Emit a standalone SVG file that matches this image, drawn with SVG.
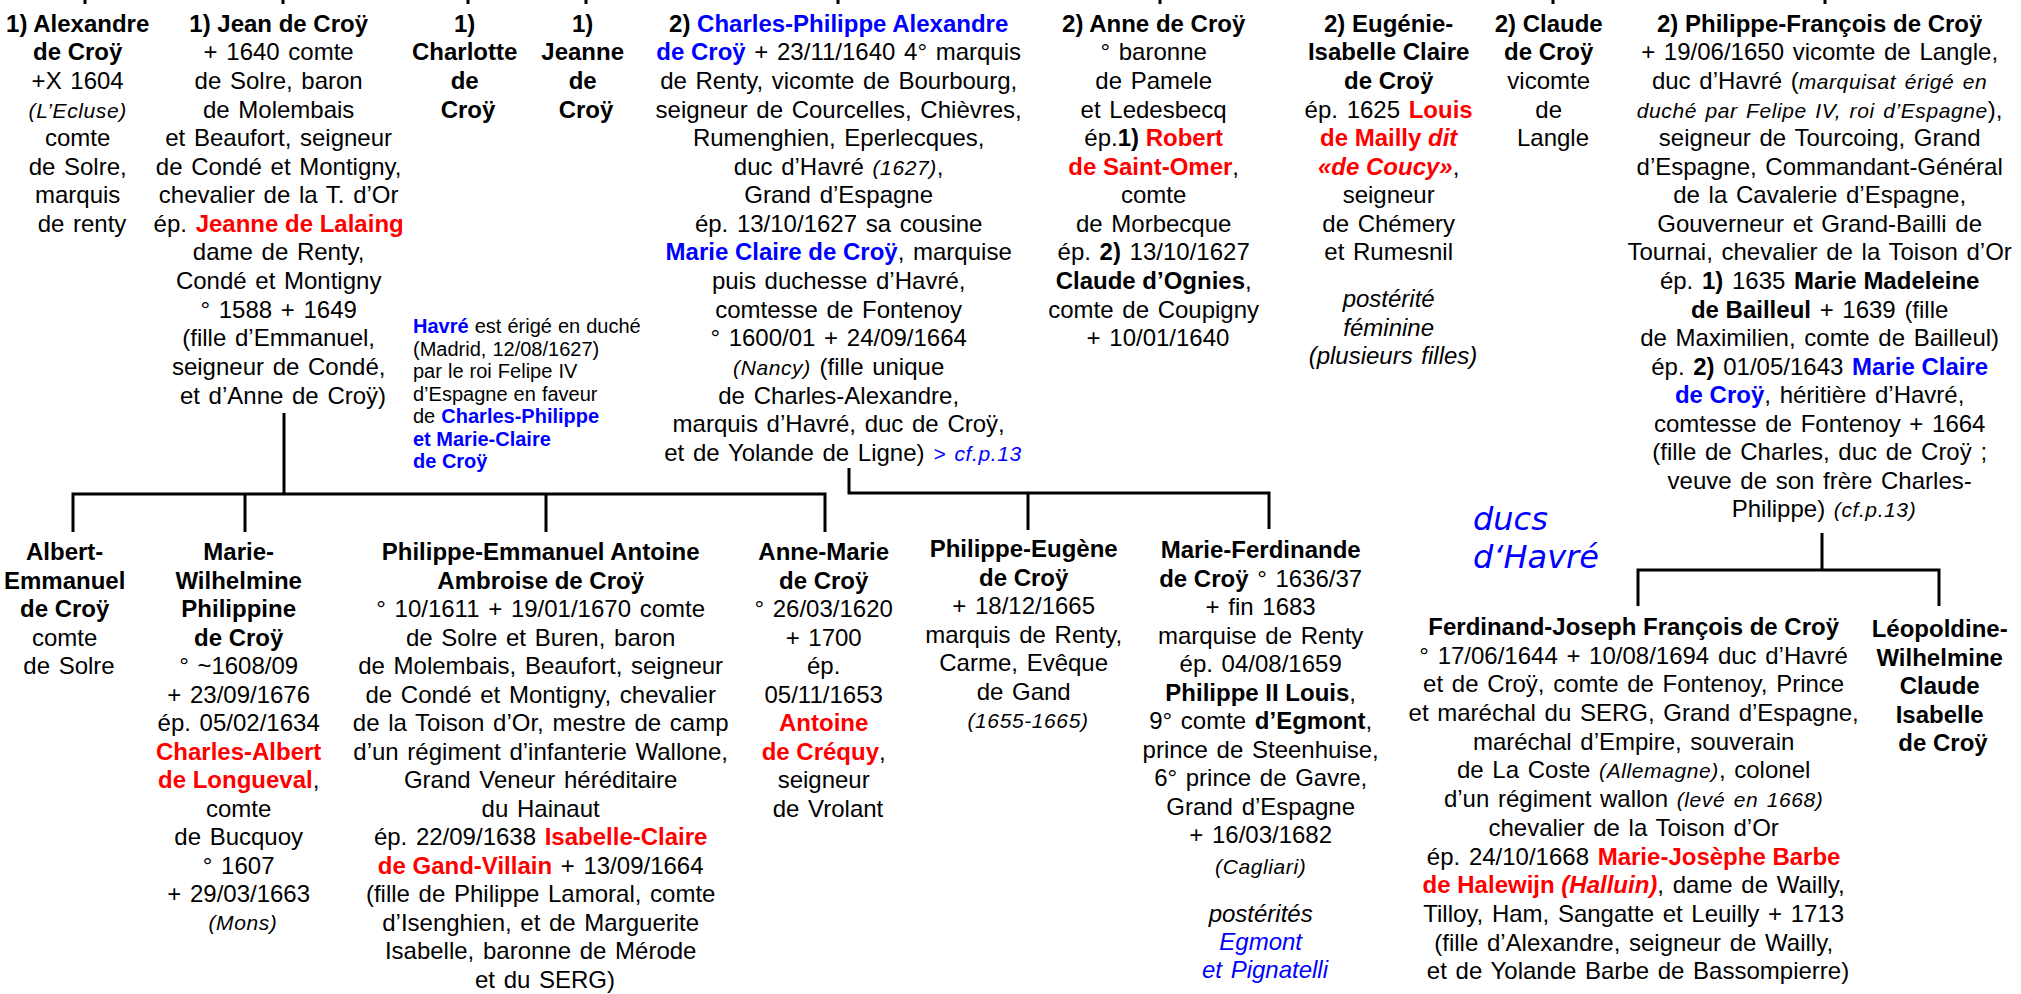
<svg xmlns="http://www.w3.org/2000/svg" width="2021" height="994" viewBox="0 0 2021 994">
<style>
text { font-family: "Liberation Sans", Arial, sans-serif; font-size: 24px; fill: #000; text-anchor: middle; word-spacing: 2px; }
.b { font-weight: bold; word-spacing: 0; }
.r { fill: #FF0000; }
.u { fill: #0000FF; }
.i { font-style: italic; }
.s { font-size: 21px; letter-spacing: 0.6px; }
.note { font-size: 20px; text-anchor: start; word-spacing: 0.5px; }
.ducs { font-family: "DejaVu Sans", Verdana, sans-serif; font-style: italic; font-size: 32px; fill: #0000FF; text-anchor: start; }
.ln { stroke: #000; stroke-width: 3; fill: none; }
</style>
<rect width="2021" height="994" fill="#fff"/>
<g id="connectors">
<path class="ln" d="M85 0V4M283 0V4M468 0V4M586 0V4M838 0V4M1160 0V4M1553 0V4M1825 0V4"/>
<path class="ln" d="M284 413V494M73 532V494H825V532M245 494V532M546 494V532"/>
<path class="ln" d="M849 468V493H1269V529M1028 493V530"/>
<path class="ln" d="M1822 533V570M1638 606V570H1939V606"/>
</g>
<g id="alexandre"><text>
<tspan x="82" y="32" class="b">1) Alexandre</tspan>
<tspan x="82" y="60" class="b">de Croÿ</tspan>
<tspan x="82" y="89">+X 1604</tspan>
<tspan x="82" y="118" class="i s">(L’Ecluse)</tspan>
<tspan x="82" y="146">comte</tspan>
<tspan x="82" y="175">de Solre,</tspan>
<tspan x="82" y="203">marquis</tspan>
<tspan x="82" y="232">de renty</tspan>
</text></g>
<g id="jean"><text>
<tspan x="283" y="32" class="b">1) Jean de Croÿ</tspan>
<tspan x="283" y="60">+ 1640 comte</tspan>
<tspan x="283" y="89">de Solre, baron</tspan>
<tspan x="283" y="118">de Molembais</tspan>
<tspan x="283" y="146">et Beaufort, seigneur</tspan>
<tspan x="283" y="175">de Condé et Montigny,</tspan>
<tspan x="283" y="203">chevalier de la T. d’Or</tspan>
<tspan x="283" y="232">ép. <tspan class="b r">Jeanne de Lalaing</tspan></tspan>
<tspan x="283" y="260">dame de Renty,</tspan>
<tspan x="283" y="289">Condé et Montigny</tspan>
<tspan x="283" y="318">° 1588 + 1649</tspan>
<tspan x="283" y="346">(fille d’Emmanuel,</tspan>
<tspan x="283" y="375">seigneur de Condé,</tspan>
<tspan x="283" y="404">et d’Anne de Croÿ)</tspan>
</text></g>
<g id="charlotte"><text class="b">
<tspan x="468" y="32">1)</tspan>
<tspan x="468" y="60">Charlotte</tspan>
<tspan x="468" y="89">de</tspan>
<tspan x="468" y="118">Croÿ</tspan>
</text></g>
<g id="jeanne"><text class="b">
<tspan x="586" y="32">1)</tspan>
<tspan x="586" y="60">Jeanne</tspan>
<tspan x="586" y="89">de</tspan>
<tspan x="586" y="118">Croÿ</tspan>
</text></g>
<g id="havre-note"><text class="note">
<tspan x="413" y="333"><tspan class="b u">Havré</tspan> est érigé en duché</tspan>
<tspan x="413" y="356">(Madrid, 12/08/1627)</tspan>
<tspan x="413" y="378">par le roi Felipe IV</tspan>
<tspan x="413" y="401">d’Espagne en faveur</tspan>
<tspan x="413" y="423">de <tspan class="b u">Charles-Philippe</tspan></tspan>
<tspan x="413" y="446" class="b u">et Marie-Claire</tspan>
<tspan x="413" y="468" class="b u">de Croÿ</tspan>
</text></g>
<g id="charles-philippe"><text>
<tspan x="843" y="32" class="b">2) <tspan class="u">Charles-Philippe Alexandre</tspan></tspan>
<tspan x="843" y="60"><tspan class="b u">de Croÿ</tspan> + 23/11/1640 4° marquis</tspan>
<tspan x="843" y="89">de Renty, vicomte de Bourbourg,</tspan>
<tspan x="843" y="118">seigneur de Courcelles, Chièvres,</tspan>
<tspan x="843" y="146">Rumenghien, Eperlecques,</tspan>
<tspan x="843" y="175">duc d’Havré <tspan class="i s">(1627)</tspan>,</tspan>
<tspan x="843" y="203">Grand d’Espagne</tspan>
<tspan x="843" y="232">ép. 13/10/1627 sa cousine</tspan>
<tspan x="843" y="260"><tspan class="b u">Marie Claire de Croÿ</tspan>, marquise</tspan>
<tspan x="843" y="289">puis duchesse d’Havré,</tspan>
<tspan x="843" y="318">comtesse de Fontenoy</tspan>
<tspan x="843" y="346">° 1600/01 + 24/09/1664</tspan>
<tspan x="843" y="375"><tspan class="i s">(Nancy)</tspan> (fille unique</tspan>
<tspan x="843" y="404">de Charles-Alexandre,</tspan>
<tspan x="843" y="432">marquis d’Havré, duc de Croÿ,</tspan>
<tspan x="843" y="461">et de Yolande de Ligne) <tspan class="i s u">&gt; cf.p.13</tspan></tspan>
</text></g>
<g id="anne"><text>
<tspan x="1158" y="32" class="b">2) Anne de Croÿ</tspan>
<tspan x="1158" y="60">° baronne</tspan>
<tspan x="1158" y="89">de Pamele</tspan>
<tspan x="1158" y="118">et Ledesbecq</tspan>
<tspan x="1158" y="146">ép.<tspan class="b">1) </tspan><tspan class="b r">Robert</tspan></tspan>
<tspan x="1158" y="175"><tspan class="b r">de Saint-Omer</tspan>,</tspan>
<tspan x="1158" y="203">comte</tspan>
<tspan x="1158" y="232">de Morbecque</tspan>
<tspan x="1158" y="260">ép. <tspan class="b">2)</tspan> 13/10/1627</tspan>
<tspan x="1158" y="289"><tspan class="b">Claude d’Ognies</tspan>,</tspan>
<tspan x="1158" y="318">comte de Coupigny</tspan>
<tspan x="1158" y="346">+ 10/01/1640</tspan>
</text></g>
<g id="eugenie"><text>
<tspan x="1393" y="32" class="b">2) Eugénie-</tspan>
<tspan x="1393" y="60" class="b">Isabelle Claire</tspan>
<tspan x="1393" y="89" class="b">de Croÿ</tspan>
<tspan x="1393" y="118">ép. 1625 <tspan class="b r">Louis</tspan></tspan>
<tspan x="1393" y="146" class="b r">de Mailly <tspan class="i">dit</tspan></tspan>
<tspan x="1393" y="175"><tspan class="b r i">«de Coucy»</tspan>,</tspan>
<tspan x="1393" y="203">seigneur</tspan>
<tspan x="1393" y="232">de Chémery</tspan>
<tspan x="1393" y="260">et Rumesnil</tspan>
<tspan x="1393" y="307" class="i">postérité</tspan>
<tspan x="1393" y="336" class="i">féminine</tspan>
<tspan x="1393" y="364" class="i">(plusieurs filles)</tspan>
</text></g>
<g id="claude"><text>
<tspan x="1553" y="32" class="b">2) Claude</tspan>
<tspan x="1553" y="60" class="b">de Croÿ</tspan>
<tspan x="1553" y="89">vicomte</tspan>
<tspan x="1553" y="118">de</tspan>
<tspan x="1553" y="146">Langle</tspan>
</text></g>
<g id="philippe-francois"><text>
<tspan x="1824" y="32" class="b">2) Philippe-François de Croÿ</tspan>
<tspan x="1824" y="60">+ 19/06/1650 vicomte de Langle,</tspan>
<tspan x="1824" y="89">duc d’Havré (<tspan class="i s">marquisat érigé en</tspan></tspan>
<tspan x="1824" y="118"><tspan class="i s">duché par Felipe IV, roi d’Espagne</tspan>),</tspan>
<tspan x="1824" y="146">seigneur de Tourcoing, Grand</tspan>
<tspan x="1824" y="175">d’Espagne, Commandant-Général</tspan>
<tspan x="1824" y="203">de la Cavalerie d’Espagne,</tspan>
<tspan x="1824" y="232">Gouverneur et Grand-Bailli de</tspan>
<tspan x="1824" y="260">Tournai, chevalier de la Toison d’Or</tspan>
<tspan x="1824" y="289">ép. <tspan class="b">1)</tspan> 1635 <tspan class="b">Marie Madeleine</tspan></tspan>
<tspan x="1824" y="318"><tspan class="b">de Bailleul</tspan> + 1639 (fille</tspan>
<tspan x="1824" y="346">de Maximilien, comte de Bailleul)</tspan>
<tspan x="1824" y="375">ép. <tspan class="b">2)</tspan> 01/05/1643 <tspan class="b u">Marie Claire</tspan></tspan>
<tspan x="1824" y="403"><tspan class="b u">de Croÿ</tspan>, héritière d’Havré,</tspan>
<tspan x="1824" y="432">comtesse de Fontenoy + 1664</tspan>
<tspan x="1824" y="460">(fille de Charles, duc de Croÿ ;</tspan>
<tspan x="1824" y="489">veuve de son frère Charles-</tspan>
<tspan x="1824" y="517">Philippe) <tspan class="i s">(cf.p.13)</tspan></tspan>
</text></g>
<g id="ducs-havre"><text class="ducs">
<tspan x="1473" y="530">ducs</tspan>
<tspan x="1473" y="568">d‘Havré</tspan>
</text></g>
<g id="albert"><text>
<tspan x="69" y="560" class="b">Albert-</tspan>
<tspan x="69" y="589" class="b">Emmanuel</tspan>
<tspan x="69" y="617" class="b">de Croÿ</tspan>
<tspan x="69" y="646">comte</tspan>
<tspan x="69" y="674">de Solre</tspan>
</text></g>
<g id="marie-wilhelmine"><text>
<tspan x="243" y="560" class="b">Marie-</tspan>
<tspan x="243" y="589" class="b">Wilhelmine</tspan>
<tspan x="243" y="617" class="b">Philippine</tspan>
<tspan x="243" y="646" class="b">de Croÿ</tspan>
<tspan x="243" y="674">° ~1608/09</tspan>
<tspan x="243" y="703">+ 23/09/1676</tspan>
<tspan x="243" y="731">ép. 05/02/1634</tspan>
<tspan x="243" y="760" class="b r">Charles-Albert</tspan>
<tspan x="243" y="788"><tspan class="b r">de Longueval</tspan>,</tspan>
<tspan x="243" y="817">comte</tspan>
<tspan x="243" y="845">de Bucquoy</tspan>
<tspan x="243" y="874">° 1607</tspan>
<tspan x="243" y="902">+ 29/03/1663</tspan>
<tspan x="243" y="930" class="i s">(Mons)</tspan>
</text></g>
<g id="philippe-emmanuel"><text>
<tspan x="545" y="560" class="b">Philippe-Emmanuel Antoine</tspan>
<tspan x="545" y="589" class="b">Ambroise de Croÿ</tspan>
<tspan x="545" y="617">° 10/1611 + 19/01/1670 comte</tspan>
<tspan x="545" y="646">de Solre et Buren, baron</tspan>
<tspan x="545" y="674">de Molembais, Beaufort, seigneur</tspan>
<tspan x="545" y="703">de Condé et Montigny, chevalier</tspan>
<tspan x="545" y="731">de la Toison d’Or, mestre de camp</tspan>
<tspan x="545" y="760">d’un régiment d’infanterie Wallone,</tspan>
<tspan x="545" y="788">Grand Veneur héréditaire</tspan>
<tspan x="545" y="817">du Hainaut</tspan>
<tspan x="545" y="845">ép. 22/09/1638 <tspan class="b r">Isabelle-Claire</tspan></tspan>
<tspan x="545" y="874"><tspan class="b r">de Gand-Villain</tspan> + 13/09/1664</tspan>
<tspan x="545" y="902">(fille de Philippe Lamoral, comte</tspan>
<tspan x="545" y="931">d’Isenghien, et de Marguerite</tspan>
<tspan x="545" y="959">Isabelle, baronne de Mérode</tspan>
<tspan x="545" y="988">et du SERG)</tspan>
</text></g>
<g id="anne-marie"><text>
<tspan x="828" y="560" class="b">Anne-Marie</tspan>
<tspan x="828" y="589" class="b">de Croÿ</tspan>
<tspan x="828" y="617">° 26/03/1620</tspan>
<tspan x="828" y="646">+ 1700</tspan>
<tspan x="828" y="674">ép.</tspan>
<tspan x="828" y="703">05/11/1653</tspan>
<tspan x="828" y="731" class="b r">Antoine</tspan>
<tspan x="828" y="760"><tspan class="b r">de Créquy</tspan>,</tspan>
<tspan x="828" y="788">seigneur</tspan>
<tspan x="828" y="817">de Vrolant</tspan>
</text></g>
<g id="philippe-eugene"><text>
<tspan x="1028" y="557" class="b">Philippe-Eugène</tspan>
<tspan x="1028" y="586" class="b">de Croÿ</tspan>
<tspan x="1028" y="614">+ 18/12/1665</tspan>
<tspan x="1028" y="643">marquis de Renty,</tspan>
<tspan x="1028" y="671">Carme, Evêque</tspan>
<tspan x="1028" y="700">de Gand</tspan>
<tspan x="1028" y="728" class="i s">(1655-1665)</tspan>
</text></g>
<g id="marie-ferdinande"><text>
<tspan x="1265" y="558" class="b">Marie-Ferdinande</tspan>
<tspan x="1265" y="587"><tspan class="b">de Croÿ</tspan> ° 1636/37</tspan>
<tspan x="1265" y="615">+ fin 1683</tspan>
<tspan x="1265" y="644">marquise de Renty</tspan>
<tspan x="1265" y="672">ép. 04/08/1659</tspan>
<tspan x="1265" y="701"><tspan class="b">Philippe II Louis</tspan>,</tspan>
<tspan x="1265" y="729">9° comte <tspan class="b">d’Egmont</tspan>,</tspan>
<tspan x="1265" y="758">prince de Steenhuise,</tspan>
<tspan x="1265" y="786">6° prince de Gavre,</tspan>
<tspan x="1265" y="815">Grand d’Espagne</tspan>
<tspan x="1265" y="843">+ 16/03/1682</tspan>
<tspan x="1265" y="874" class="i s">(Cagliari)</tspan>
<tspan x="1265" y="922" class="i">postérités</tspan>
<tspan x="1265" y="950" class="i u">Egmont</tspan>
<tspan x="1265" y="978" class="i u">et Pignatelli</tspan>
</text></g>
<g id="ferdinand-joseph"><text>
<tspan x="1638" y="635" class="b">Ferdinand-Joseph François de Croÿ</tspan>
<tspan x="1638" y="664">° 17/06/1644 + 10/08/1694 duc d’Havré</tspan>
<tspan x="1638" y="692">et de Croÿ, comte de Fontenoy, Prince</tspan>
<tspan x="1638" y="721">et maréchal du SERG, Grand d’Espagne,</tspan>
<tspan x="1638" y="750">maréchal d’Empire, souverain</tspan>
<tspan x="1638" y="778">de La Coste <tspan class="i s">(Allemagne)</tspan>, colonel</tspan>
<tspan x="1638" y="807">d’un régiment wallon <tspan class="i s">(levé en 1668)</tspan></tspan>
<tspan x="1638" y="836">chevalier de la Toison d’Or</tspan>
<tspan x="1638" y="865">ép. 24/10/1668 <tspan class="b r">Marie-Josèphe Barbe</tspan></tspan>
<tspan x="1638" y="893"><tspan class="b r">de Halewijn <tspan class="i">(Halluin)</tspan></tspan>, dame de Wailly,</tspan>
<tspan x="1638" y="922">Tilloy, Ham, Sangatte et Leuilly + 1713</tspan>
<tspan x="1638" y="951">(fille d’Alexandre, seigneur de Wailly,</tspan>
<tspan x="1638" y="979">et de Yolande Barbe de Bassompierre)</tspan>
</text></g>
<g id="leopoldine"><text class="b">
<tspan x="1943" y="637">Léopoldine-</tspan>
<tspan x="1943" y="666">Wilhelmine</tspan>
<tspan x="1943" y="694">Claude</tspan>
<tspan x="1943" y="723">Isabelle</tspan>
<tspan x="1943" y="751">de Croÿ</tspan>
</text></g>
</svg>
